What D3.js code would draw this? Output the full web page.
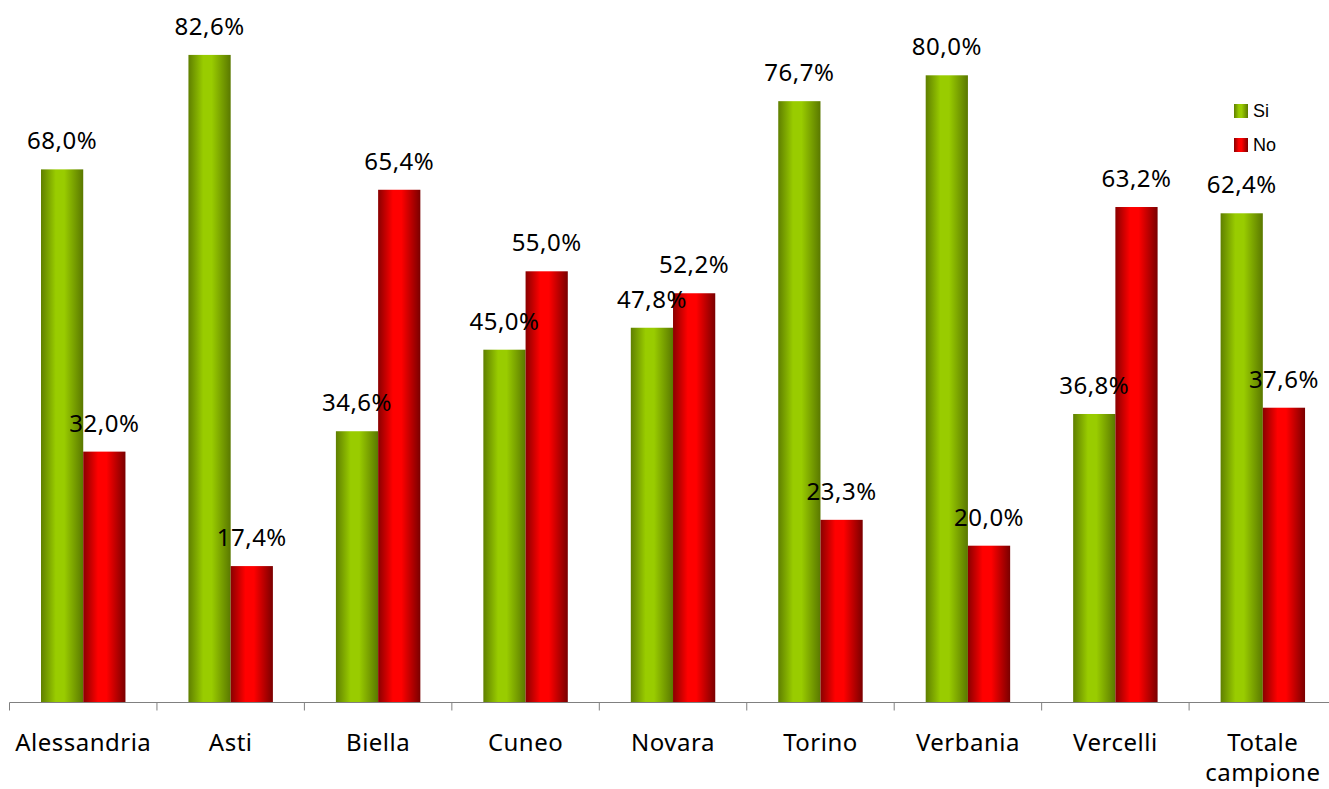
<!DOCTYPE html>
<html><head><meta charset="utf-8">
<script src="https://cdn.jsdelivr.net/npm/d3@7"></script>
<style>body{margin:0;background:#fff}svg{display:block}</style>
</head><body>
<svg id="c" width="1329" height="789"></svg>
<script>
const categories = ["Alessandria","Asti","Biella","Cuneo","Novara","Torino","Verbania","Vercelli","Totale campione"];
const seriesNames = ["Si","No"];
const siValues = [68.0,82.6,34.6,45.0,47.8,76.7,80.0,36.8,62.4];
const noValues = [32.0,17.4,65.4,55.0,52.2,23.3,20.0,63.2,37.6];

const svg = d3.select("#c");
const axisY = 702.5, left = 9.5, band = 147.45;
const x = d3.scaleBand().domain(categories).range([left, left + band*categories.length]).paddingInner(0).paddingOuter(0);
const y = d3.scaleLinear().domain([0, 100]).range([axisY, axisY - 784]);
const inner = d3.scaleBand().domain(seriesNames).range([31.5, band-31.5]);

const defs = svg.append("defs");
function grad(id, stops){
  const g = defs.append("linearGradient").attr("id", id).attr("x1","0%").attr("x2","100%").attr("y1","0").attr("y2","0");
  stops.forEach(s => g.append("stop").attr("offset", s[0]).attr("stop-color", s[1]));
}
grad("gSi", [["0%","#5f7f00"],["35%","#99cc00"],["55%","#99cc00"],["100%","#5a7800"]]);
grad("gNo", [["0%","#8a0000"],["35%","#ff0000"],["55%","#ff0000"],["100%","#7a0000"]]);
const fills = {Si:"url(#gSi)", No:"url(#gNo)"};

const rows = categories.map((c,i)=>({cat:c, vals:[{k:"Si",v:siValues[i]},{k:"No",v:noValues[i]}]}));
const font = "'Noto Sans', sans-serif";

const g = svg.selectAll("g.cat").data(rows).join("g").attr("class","cat")
  .attr("transform", d=>`translate(${x(d.cat)},0)`);
g.selectAll("rect").data(d=>d.vals).join("rect")
  .attr("x", d=>inner(d.k)).attr("width", inner.bandwidth())
  .attr("y", d=>y(d.v)).attr("height", d=>axisY - y(d.v))
  .attr("fill", d=>fills[d.k]);
g.selectAll("text.val").data(d=>d.vals).join("text").attr("class","val")
  .attr("x", d=>inner(d.k)+inner.bandwidth()/2).attr("y", d=>y(d.v)-20)
  .attr("text-anchor","middle").attr("font-family", font).attr("font-size", 24).attr("fill","#000")
  .attr("letter-spacing", 0.5)
  .text(d=>d.v.toFixed(1).replace(".",",")+"%");

// axis
const ag = svg.append("g").attr("transform",`translate(0,${axisY})`);
ag.append("line").attr("x1",left).attr("x2",left+band*categories.length).attr("y1",0).attr("y2",0).attr("stroke","#808080");
const edges = d3.range(categories.length+1).map(i=>left+i*band);
ag.selectAll("line.edge").data(edges).join("line").attr("class","edge")
  .attr("x1",d=>d).attr("x2",d=>d).attr("y1",0).attr("y2",8).attr("stroke","#808080");

// category labels
svg.selectAll("text.cat").data(categories).join("text").attr("class","cat")
  .attr("x", d=>x(d)+band/2).attr("y", 751)
  .attr("text-anchor","middle").attr("font-family", font).attr("font-size", 24).attr("fill","#000")
  .attr("letter-spacing", 0.5)
  .each(function(d){
    const words = d === "Totale campione" ? ["Totale","campione"] : [d];
    d3.select(this).selectAll("tspan").data(words).join("tspan")
      .attr("x", x(d)+band/2).attr("dy",(w,i)=> i===0?0:30).text(w=>w);
  });

// legend
const leg = svg.append("g").attr("transform","translate(1234,104)");
seriesNames.forEach((s,i)=>{
  leg.append("rect").attr("x",0).attr("y",i*34).attr("width",14).attr("height",14).attr("fill",fills[s]);
  leg.append("text").attr("x",19).attr("y",i*34+13).attr("font-family","'Liberation Sans', Arial, sans-serif")
    .attr("font-size",18).attr("fill","#000").text(s);
});
</script>
</body></html>
